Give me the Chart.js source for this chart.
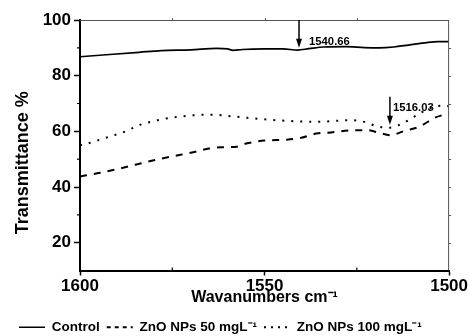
<!DOCTYPE html>
<html>
<head>
<meta charset="utf-8">
<script src="https://cdn.jsdelivr.net/npm/chart.js@4/dist/chart.umd.min.js"></script>
<style>
  html, body { margin: 0; padding: 0; background: #fff; }
  canvas { display: block; }
</style>
</head>
<body>
<canvas id="c" width="469" height="336"></canvas>
<script>
// ---- data ----
const seriesNames = ['Control', 'ZnO NPs 50 mgL\u207B\u00B9', 'ZnO NPs 100 mgL\u207B\u00B9'];

const controlWavenumbers = [1600, 1592, 1584, 1578, 1570, 1563, 1560, 1558.5, 1556, 1550, 1545, 1541, 1538, 1534, 1528, 1523, 1519, 1515, 1511, 1506, 1503, 1500];
const controlValues      = [86.8, 87.6, 88.4, 89.0, 89.3, 89.8, 89.6, 89.1, 89.4, 89.6, 89.6, 89.2, 89.7, 90.3, 90.4, 90.1, 90.0, 90.3, 91.0, 91.9, 92.2, 92.2];

const zno50Wavenumbers = [1600, 1595, 1590, 1585, 1580, 1575, 1570, 1565, 1562, 1558, 1555, 1550, 1544, 1540, 1536, 1532, 1527, 1522, 1519, 1516, 1512, 1508, 1504, 1500];
const zno50Values      = [43.8, 45.0, 46.4, 48.0, 49.6, 51.0, 52.3, 53.8, 54.3, 54.4, 55.6, 56.7, 57.0, 57.7, 59.2, 59.6, 60.3, 60.4, 59.5, 58.6, 60.2, 61.7, 64.8, 66.5];

const zno100Wavenumbers = [1600, 1598, 1593, 1588, 1584, 1579, 1573, 1565, 1558, 1551, 1543, 1536, 1527, 1523, 1520, 1516.5, 1513, 1509, 1505, 1502, 1500];
const zno100Values      = [55.0, 55.6, 57.7, 59.8, 62.2, 64.0, 65.3, 66.0, 65.3, 64.4, 63.7, 63.4, 64.0, 63.4, 62.0, 61.3, 62.6, 65.6, 68.4, 69.2, 69.0];

const xTickValues = [1600, 1550, 1500];
const yTickValues = [20, 40, 60, 80, 100];
const xMinorTicks = [1575, 1525];
const xTopTicks   = [1575, 1550, 1525];
const yMinorTicks = [30, 50, 70, 90];
const yRightTicks = [20, 30, 40, 50, 60, 70, 80, 90];

const peakLabels    = ['1540.66', '1516.03'];
const peakPositions = [1540.66, 1516.03];
const arrowTops     = [100, 72.4];
const arrowTips     = [90.0, 62.4];
const labelLevels   = [92.3, 68.6];

const toPoints = (xs, ys) => xs.map((x, i) => ({ x: x, y: ys[i] }));

const FONT = "'Liberation Sans', Arial, Helvetica, sans-serif";
Chart.defaults.color = '#000';
Chart.defaults.font.family = FONT;

const legendDashes = [[], [4, 4], [2, 5]];

const decorations = {
  id: 'decorations',
  afterDatasetsDraw(chart) {
    const { ctx, chartArea: a, scales: { x, y } } = chart;
    ctx.save();
    // thin top and right frame
    ctx.strokeStyle = '#555';
    ctx.lineWidth = 1;
    ctx.beginPath();
    ctx.moveTo(a.left, a.top + 0.5); ctx.lineTo(a.right, a.top + 0.5);
    ctx.moveTo(a.right - 0.5, a.top); ctx.lineTo(a.right - 0.5, a.bottom);
    ctx.stroke();
    // small ticks on top & right
    ctx.beginPath();
    xTopTicks.forEach(v => { const px = Math.round(x.getPixelForValue(v)) + 0.5; ctx.moveTo(px, a.top); ctx.lineTo(px, a.top - 2); });
    yRightTicks.forEach(v => { const py = Math.round(y.getPixelForValue(v)) + 0.5; ctx.moveTo(a.right, py); ctx.lineTo(a.right + 2, py); });
    ctx.stroke();
    // minor ticks on bottom & left
    ctx.strokeStyle = '#000';
    ctx.lineWidth = 1.2;
    ctx.beginPath();
    xMinorTicks.forEach(v => { const px = x.getPixelForValue(v); ctx.moveTo(px, a.bottom); ctx.lineTo(px, a.bottom - 3); });
    yMinorTicks.forEach(v => { const py = y.getPixelForValue(v); ctx.moveTo(a.left, py); ctx.lineTo(a.left - 3, py); });
    ctx.stroke();
    // arrows and peak labels
    ctx.fillStyle = '#000';
    ctx.strokeStyle = '#000';
    ctx.lineWidth = 1.5;
    peakPositions.forEach((p, i) => {
      const px = x.getPixelForValue(p);
      const top = y.getPixelForValue(arrowTops[i]);
      const tip = y.getPixelForValue(arrowTips[i]);
      const head = 9;
      ctx.beginPath();
      ctx.moveTo(px, top); ctx.lineTo(px, tip - head + 1);
      ctx.stroke();
      ctx.beginPath();
      ctx.moveTo(px - 3, tip - head); ctx.lineTo(px + 3, tip - head); ctx.lineTo(px, tip);
      ctx.closePath();
      ctx.fill();
      ctx.font = 'bold 11.3px ' + FONT;
      ctx.textAlign = 'left';
      ctx.textBaseline = 'middle';
      ctx.fillText(peakLabels[i], px + (i === 0 ? 10 : 3), y.getPixelForValue(labelLevels[i]));
    });
    ctx.restore();
  }
};

new Chart(document.getElementById('c'), {
  type: 'line',
  data: {
    datasets: [
      { label: seriesNames[0], data: toPoints(controlWavenumbers, controlValues), borderColor: '#000', backgroundColor: '#000', borderWidth: 1.7, pointRadius: 0, cubicInterpolationMode: 'monotone' },
      { label: seriesNames[1], data: toPoints(zno50Wavenumbers, zno50Values), borderColor: '#000', backgroundColor: '#000', borderWidth: 2, borderDash: [7, 7], pointRadius: 0, cubicInterpolationMode: 'monotone' },
      { label: seriesNames[2], data: toPoints(zno100Wavenumbers, zno100Values), borderColor: '#000', backgroundColor: '#000', borderWidth: 2, borderDash: [2, 7], pointRadius: 0, cubicInterpolationMode: 'monotone' }
    ]
  },
  options: {
    responsive: false,
    animation: false,
    layout: { padding: { left: 12, right: 18, top: 20, bottom: -8 } },
    plugins: {
      legend: {
        position: 'bottom',
        align: 'start',
        labels: {
          usePointStyle: true,
          pointStyle: 'line',
          pointStyleWidth: 26,
          padding: 7,
          color: '#000',
          font: { family: FONT, size: 13.5, weight: 'bold' },
          generateLabels: chart => {
            const items = Chart.defaults.plugins.legend.labels.generateLabels(chart);
            items.forEach(it => {
              const ds = chart.data.datasets[it.datasetIndex];
              it.lineDash = legendDashes[it.datasetIndex];
              it.lineWidth = ds.borderWidth;
              it.strokeStyle = '#000';
              it.lineCap = 'butt';
              it.pointStyle = 'line';
            });
            return items;
          }
        }
      },
      tooltip: { enabled: false }
    },
    scales: {
      x: {
        type: 'linear',
        reverse: true,
        min: 1500,
        max: 1600,
        afterBuildTicks: s => { s.ticks = xTickValues.map(v => ({ value: v })); },
        afterFit: s => { s.height = 43; },
        border: { color: '#000', width: 2 },
        grid: { drawOnChartArea: false, tickLength: 5, tickColor: '#000', tickWidth: 1.5 },
        ticks: { padding: 1, maxRotation: 0, color: '#000', callback: v => String(v), font: { family: FONT, size: 17, weight: 'bold' } },
        title: { display: true, text: 'Wavanumbers cm\u207B\u00B9', color: '#000', padding: { top: 0, bottom: 6 }, font: { family: FONT, size: 16, weight: 'bold' } }
      },
      y: {
        min: 10,
        max: 100,
        afterBuildTicks: s => { s.ticks = yTickValues.map(v => ({ value: v })); },
        afterFit: s => { s.width = 68; },
        border: { color: '#000', width: 2 },
        grid: { drawOnChartArea: false, tickLength: 6, tickColor: '#000', tickWidth: 1.5 },
        ticks: { padding: 3, color: '#000', callback: v => String(v), font: { family: FONT, size: 17, weight: 'bold' } },
        title: { display: true, text: 'Transmittance %       ', color: '#000', padding: { top: 0, bottom: 0 }, font: { family: FONT, size: 18, weight: 'bold' } }
      }
    }
  },
  plugins: [decorations]
});
</script>
</body>
</html>
